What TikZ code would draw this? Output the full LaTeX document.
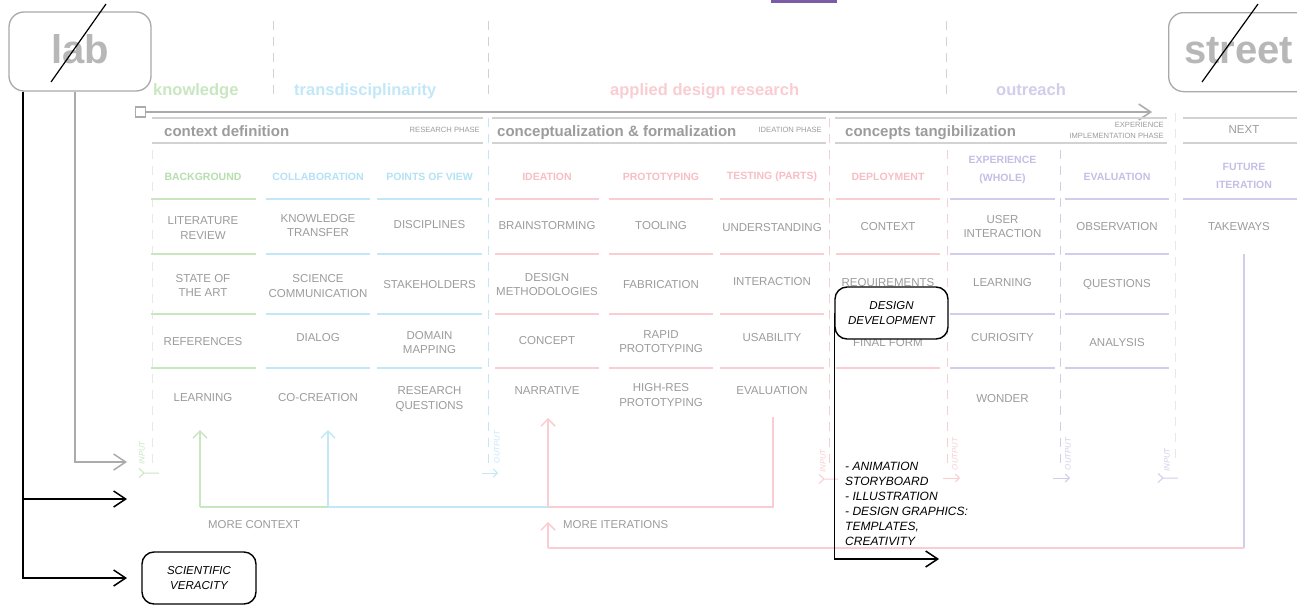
\documentclass[tikz,border=0pt]{standalone}
\usepackage{fontspec}
\setmainfont{Liberation Sans}
\usetikzlibrary{arrows.meta}
\definecolor{cgreen}{HTML}{C8E7C1}
\definecolor{cgreenT}{HTML}{B6DEAE}
\definecolor{cblue}{HTML}{C2E8F8}
\definecolor{cblueT}{HTML}{B4E2F6}
\definecolor{cpink}{HTML}{F9CDD2}
\definecolor{cpinkT}{HTML}{F8BEC5}
\definecolor{cpurple}{HTML}{D3CCEB}
\definecolor{cpurpleT}{HTML}{C6BEE6}
\definecolor{ctext}{HTML}{9C9C9C}
\definecolor{cline}{HTML}{D2D2D2}
\definecolor{cfaint}{HTML}{E8E8E8}
\definecolor{cbig}{HTML}{B7B7B7}
\definecolor{cbox}{HTML}{A9A9A9}
\definecolor{cdeep}{HTML}{7B5CA8}
\definecolor{carrow}{HTML}{ABABAB}
\begin{document}
\begin{tikzpicture}[x=1pt,y=-1pt,
  cellt/.style={text=ctext,font=\fontsize{11.5}{14.8}\selectfont,align=center,inner sep=0pt},
  headt/.style={font=\bfseries\fontsize{10.5}{18}\selectfont,align=center,inner sep=0pt},
  catlbl/.style={font=\bfseries\fontsize{16.5}{20}\selectfont,anchor=base west,inner sep=0pt},
  phaselbl/.style={font=\bfseries\fontsize{15}{18}\selectfont,text=ctext,anchor=base west,inner sep=0pt},
  phasesm/.style={font=\fontsize{7.6}{11}\selectfont,text=ctext,anchor=east,align=right,inner sep=0pt},
  bigword/.style={font=\bfseries\fontsize{40}{40}\selectfont,text=cbig,inner sep=0pt},
  bigbox/.style={draw=cbox,line width=1.3pt,rounded corners=15pt,inner sep=0pt},
  blkbox/.style={draw=black,line width=1.4pt,rounded corners=12pt,align=center,font=\itshape\fontsize{11.5}{15.5}\selectfont,inner sep=0pt},
  iolbl/.style={font=\itshape\fontsize{7.8}{9}\selectfont,rotate=90,inner sep=0pt},
  sepdash/.style={line width=1pt,dash pattern=on 9pt off 7pt},
  rowln/.style={line width=1.3pt},
  hdrln/.style={draw=cline,line width=1.3pt},
  loopln/.style={line width=1.5pt},
  uptip/.style={-{Straight Barb[length=7pt,width=14pt]}},
  bigtip/.style={-{Straight Barb[length=12pt,width=16pt]}},
  smalltip/.style={-{Straight Barb[length=4pt,width=8pt]}},
  note/.style={text=ctext,font=\fontsize{11.4}{14}\selectfont,anchor=west,inner sep=0pt},
]
\useasboundingbox (0,0) rectangle (1297,605);
\fill[white] (0,0) rectangle (1297,605);

% top accent
\fill[cdeep] (771,0) rectangle (837,3.3);

% top dashed separators
\draw[cline,sepdash] (273,21) -- (273,97);
\draw[cline,sepdash] (488,21) -- (488,97);
\draw[cline,sepdash] (946,21) -- (946,97);

% category labels
\node[catlbl,text=cgreen] (knw) at (153,95) {knowledge};
\node[catlbl,text=cblue] (trd) at (294,95) {transdisciplinarity};
\node[catlbl,text=cpink] (adr) at (610,95) {applied design research};
\node[catlbl,text=cpurple] (outr) at (996,95) {outreach};

% lab box
\node[bigbox,minimum width=142pt,minimum height=79pt] (lab) at (80,51.5) {};
\node[bigword,anchor=base] (labtxt) at (80,63) {lab};
\coordinate (ls1) at (51,82);
\coordinate (ls2) at (106,4);
\draw[black,line width=1.2pt] (ls1) -- (ls2);

% street box
\node[bigbox,minimum width=160pt,minimum height=79pt,anchor=north west] (street) at (1168,12) {};
\node[bigword,anchor=base west] (streettxt) at (1184,63) {street};
\coordinate (ss1) at (1202,82);
\coordinate (ss2) at (1258,4);
\draw[black,line width=1.2pt] (ss1) -- (ss2);

% main timeline arrow
\node[draw=carrow,line width=1.3pt,minimum size=10pt,inner sep=0pt] (sq) at (140.5,112) {};
\coordinate (topend) at (1152,112);
\draw[carrow,line width=1.5pt,bigtip] (sq.east) -- (topend);

% header lines
\foreach \a/\b in {152/483,492/826,835/1167,1183/1297}{
  \draw[hdrln] (\a,118) -- (\b,118);
  \draw[hdrln] (\a,143) -- (\b,143);
}
\node[phaselbl] (ph1) at (164,136) {context definition};
\node[phasesm] (ph1s) at (480,130) {RESEARCH PHASE};
\node[phaselbl] (ph2) at (497,136) {conceptualization \& formalization};
\node[phasesm] (ph2s) at (822,130) {IDEATION PHASE};
\node[phaselbl] (ph3) at (845,136) {concepts tangibilization};
\node[phasesm] (ph3s) at (1164,130.5) {EXPERIENCE\\IMPLEMENTATION PHASE};
\node[cellt] (ph4) at (1244,130) {NEXT};

% vertical dashed separators in the table
\draw[cfaint,sepdash] (152,150) -- (152,463);
\draw[cblue,sepdash] (488,118) -- (488,463);
\draw[cpink,sepdash] (829.5,118) -- (829.5,470);
\draw[cpink,sepdash] (947,150) -- (947,465);
\draw[cpurple,sepdash] (1060,150) -- (1060,465);
\draw[cfaint,sepdash] (1175,113) -- (1175,465);

% row lines
\foreach \a/\b/\c in {151/256/cgreen,266/370/cblue,377/482/cblue,495/599/cpink,609/713/cpink,720/824/cpink,836/940/cpink,950/1055/cpurple,1065/1169/cpurple}{
  \foreach \y in {199,254,314,368}{
    \draw[rowln,draw=\c] (\a,\y) -- (\b,\y);
  }
}
\draw[rowln,draw=cpurple] (1183,199) -- (1297,199);

% column headers
\node[headt,text=cgreenT] (hBack) at (203,177) {BACKGROUND};
\node[headt,text=cblueT] (hColl) at (318,177) {COLLABORATION};
\node[headt,text=cblueT] (hPov) at (429.5,177) {POINTS OF VIEW};
\node[headt,text=cpinkT] (hIdea) at (547,177) {IDEATION};
\node[headt,text=cpinkT] (hProt) at (661,177) {PROTOTYPING};
\node[headt,text=cpinkT] (hTest) at (772,177) {TESTING (PARTS)};
\node[headt,text=cpinkT] (hDepl) at (888,177) {DEPLOYMENT};
\node[headt,text=cpurpleT] (hExp) at (1002.5,170) {EXPERIENCE\\(WHOLE)};
\node[headt,text=cpurpleT] (hEval) at (1117,177) {EVALUATION};
\node[headt,text=cpurpleT] (hFut) at (1244,176) {FUTURE\\ITERATION};

% cells
\node[cellt] (c11) at (203,228) {LITERATURE\\REVIEW};
\node[cellt] (c12) at (203,285.5) {STATE OF\\THE ART};
\node[cellt] (c13) at (203,342) {REFERENCES};
\node[cellt] (c14) at (203,398) {LEARNING};
\node[cellt] (c21) at (318,225.5) {KNOWLEDGE\\TRANSFER};
\node[cellt] (c22) at (318,286) {SCIENCE\\COMMUNICATION};
\node[cellt] (c23) at (318,338) {DIALOG};
\node[cellt] (c24) at (318,398) {CO-CREATION};
\node[cellt] (c31) at (429.5,225) {DISCIPLINES};
\node[cellt] (c32) at (429.5,285) {STAKEHOLDERS};
\node[cellt] (c33) at (429.5,342.5) {DOMAIN\\MAPPING};
\node[cellt] (c34) at (429.5,399) {RESEARCH\\QUESTIONS};
\node[cellt] (c41) at (547,226) {BRAINSTORMING};
\node[cellt] (c42) at (547,284.5) {DESIGN\\METHODOLOGIES};
\node[cellt] (c43) at (547,341) {CONCEPT};
\node[cellt] (c44) at (547,391) {NARRATIVE};
\node[cellt] (c51) at (661,226) {TOOLING};
\node[cellt] (c52) at (661,285) {FABRICATION};
\node[cellt] (c53) at (661,341.5) {RAPID\\PROTOTYPING};
\node[cellt] (c54) at (661,395) {HIGH-RES\\PROTOTYPING};
\node[cellt] (c61) at (772,228) {UNDERSTANDING};
\node[cellt] (c62) at (772,282) {INTERACTION};
\node[cellt] (c63) at (772,338) {USABILITY};
\node[cellt] (c64) at (772,391) {EVALUATION};
\node[cellt] (c71) at (888,227) {CONTEXT};
\node[cellt] (c72) at (888,284) {REQUIREMENTS};
\node[cellt] (c73) at (888,343) {FINAL FORM};
\node[cellt] (c81) at (1002.5,226.5) {USER\\INTERACTION};
\node[cellt] (c82) at (1002.5,283) {LEARNING};
\node[cellt] (c83) at (1002.5,338) {CURIOSITY};
\node[cellt] (c84) at (1002.5,399) {WONDER};
\node[cellt] (c91) at (1117,227) {OBSERVATION};
\node[cellt] (c92) at (1117,285) {QUESTIONS};
\node[cellt] (c93) at (1117,343) {ANALYSIS};
\node[cellt] (c101) at (1239,227) {TAKEWAYS};

% input / output markers
\node[iolbl,text=cgreen] (io1) at (142,453) {INPUT};
\draw[cgreen,line width=1pt] (139,468.5) -- (144,473) -- (139,477.5) (144,473) -- (159,473);
\node[iolbl,text=cblue] (io2) at (497,447) {OUTPUT};
\draw[cblue,line width=1pt,smalltip] (482,473) -- (498,473);
\node[iolbl,text=cpink] (io3) at (823,461) {INPUT};
\draw[cpink,line width=1pt] (819,474.5) -- (824,479) -- (819,483.5) (824,479) -- (838,479);
\node[iolbl,text=cpink] (io4) at (955,454) {OUTPUT};
\draw[cpink,line width=1pt,smalltip] (943,478) -- (960,478);
\node[iolbl,text=cpurple] (io5) at (1068,454) {OUTPUT};
\draw[cpurple,line width=1pt,smalltip] (1053,478) -- (1070,478);
\node[iolbl,text=cpurple] (io6) at (1167,460) {INPUT};
\draw[cpurple,line width=1pt] (1158,473.5) -- (1163,478) -- (1158,482.5) (1163,478) -- (1178,478);

% feedback loop: more context
\coordinate (gTip) at (200,430);
\coordinate (gBot) at (200,507);
\coordinate (bTip) at (328,430);
\coordinate (bBot) at (328,507);
\coordinate (pTip) at (548,418);
\coordinate (pBot) at (548,507);
\coordinate (tTop) at (773,417);
\coordinate (tBot) at (773,507);
\draw[cpink,loopln] (tTop) -- (tBot) -- (pBot);
\draw[cpink,loopln,uptip] (pBot) -- (pTip);
\draw[cblue,loopln] (pBot) -- (bBot);
\draw[cblue,loopln,uptip] (bBot) -- (bTip);
\draw[cgreen,loopln] (bBot) -- (gBot);
\draw[cgreen,loopln,uptip] (gBot) -- (gTip);
\node[note] (mc) at (208,525) {MORE CONTEXT};

% feedback loop: more iterations
\coordinate (lTop) at (1244,254);
\coordinate (lBot) at (1244,548);
\coordinate (qBot) at (548,548);
\coordinate (qTip) at (548,522);
\draw[cpurple,loopln] (lTop) -- (lBot);
\draw[cpink,loopln] (lBot) -- (qBot);
\draw[cpink,loopln,uptip] (qBot) -- (qTip);
\node[note] (mi) at (563,525) {MORE ITERATIONS};

% lab outputs
\coordinate (lx1) at (23,0);
\coordinate (lx2) at (75,0);
\coordinate (b1) at (127,499);
\coordinate (b2) at (127,578);
\coordinate (g1) at (127,462);
\draw[carrow,line width=1.5pt,bigtip] (lab.south -| lx2) |- (g1);
\draw[black,line width=1.5pt,bigtip] (lab.south -| lx1) |- (b1);
\draw[black,line width=1.5pt,bigtip] (lab.south -| lx1) |- (b2);
\node[blkbox,minimum width=114pt,minimum height=52pt] (sv) at (199,578) {SCIENTIFIC\\VERACITY};

% design development
\node[blkbox,fill=white,minimum width=113pt,minimum height=52pt] (dd) at (891.5,313) {DESIGN\\DEVELOPMENT};
\coordinate (ddend) at (939,559);
\draw[black,line width=1.5pt,bigtip] (dd.west) |- (ddend);
\node[anchor=north west,align=left,font=\itshape\fontsize{12}{15}\selectfont,inner sep=0pt] (dlist) at (845,461.5) {- ANIMATION\\STORYBOARD\\- ILLUSTRATION\\- DESIGN GRAPHICS:\\TEMPLATES,\\CREATIVITY};
\end{tikzpicture}
\end{document}
